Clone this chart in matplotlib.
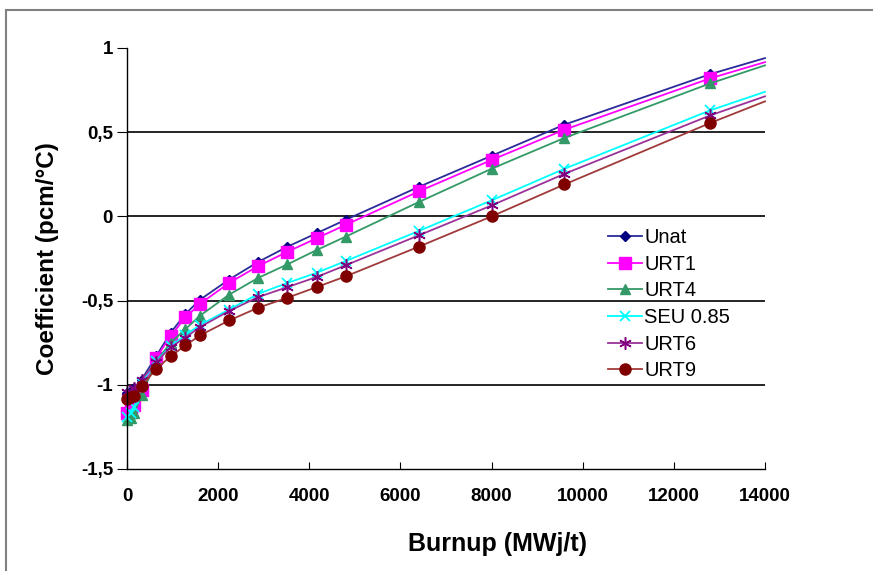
import matplotlib
matplotlib.use("Agg")
import matplotlib.pyplot as plt
from matplotlib.patches import Rectangle

plt.rcParams['font.family'] = ['Liberation Sans', 'DejaVu Sans']

burnup = [0, 80, 160, 320, 640, 960, 1280, 1600, 2240, 2880, 3520, 4160, 4800,
          6400, 8000, 9600, 12800, 14000]

unat = [-1.05, -1.04, -1.02, -0.97, -0.83, -0.69, -0.58, -0.495, -0.375, -0.27,
        -0.18, -0.10, -0.02, 0.175, 0.36, 0.545, 0.845, 0.94]
urt1 = [-1.17, -1.15, -1.12, -1.03, -0.84, -0.71, -0.60, -0.52, -0.395, -0.295,
        -0.21, -0.13, -0.05, 0.148, 0.335, 0.515, 0.82, 0.916]
urt4 = [-1.21, -1.20, -1.17, -1.06, -0.86, -0.75, -0.67, -0.59, -0.465, -0.365,
        -0.285, -0.20, -0.12, 0.085, 0.283, 0.466, 0.79, 0.897]
seu = [-1.19, -1.17, -1.13, -0.99, -0.86, -0.77, -0.705, -0.645, -0.553, -0.46,
       -0.395, -0.335, -0.265, -0.087, 0.095, 0.283, 0.63, 0.74]
urt6 = [-1.04, -1.04, -1.02, -0.97, -0.865, -0.776, -0.72, -0.657, -0.562, -0.479,
        -0.42, -0.36, -0.29, -0.113, 0.065, 0.253, 0.60, 0.713]
urt9 = [-1.085, -1.075, -1.065, -1.01, -0.905, -0.831, -0.766, -0.707, -0.618, -0.542,
        -0.483, -0.42, -0.356, -0.18, 0.0, 0.19, 0.555, 0.683]

series = [
    ("Unat", unat, "#000080", "#2B2B99", "D", 5, None),
    ("URT1", urt1, "#FF00FF", "#FF00FF", "s", 8, None),
    ("URT4", urt4, "#339966", "#339966", "^", 7, None),
    ("SEU 0.85", seu, "#00FFFF", "#00FFFF", "x", 7, 1.3),
    ("URT6", urt6, "#800080", "#993399", (6, 2, 0), 9, 1.1),
    ("URT9", urt9, "#800000", "#A03A3A", "o", 8, None),
]

xticks = [0, 2000, 4000, 6000, 8000, 10000, 12000, 14000]
yticks = [-1.5, -1, -0.5, 0, 0.5, 1]
ytick_labels = ["-1,5", "-1", "-0,5", "0", "0,5", "1"]

fig = plt.figure(figsize=(8.73, 5.71), dpi=100)
ax = fig.add_axes([127/873, 1-469/571, (765-127)/873, (469-48)/571])

fig.patches.append(Rectangle((6/873, -0.2), 1.5, 0.2 + 1 - 10/571,
                             transform=fig.transFigure, fill=False,
                             edgecolor="#808080", linewidth=1.5))

n = len(burnup)
for name, vals, mcol, lcol, mk, ms, mew in series:
    kw = dict(color=lcol, marker=mk, markersize=ms, linewidth=1.3,
              markerfacecolor=mcol, markeredgecolor=mcol,
              markevery=list(range(n - 1)), label=name, clip_on=False)
    if mew:
        kw['markeredgewidth'] = mew
    ax.plot(burnup, vals, **kw)

ax.set_xlim(0, 14000)
ax.set_ylim(-1.5, 1)
ax.set_xticks(xticks)
ax.set_xticklabels([str(t) for t in xticks], fontweight='bold', fontsize=13.5)
ax.set_yticks(yticks)
ax.set_yticklabels(ytick_labels, fontweight='bold', fontsize=13.5)

ax.grid(axis='y', color='black', linewidth=1.2)
gl = ax.get_ygridlines()
gl[0].set_visible(False)
gl[-1].set_visible(False)
ax.set_axisbelow(True)

for s in ['top', 'right']:
    ax.spines[s].set_visible(False)
for s in ['left', 'bottom']:
    ax.spines[s].set_linewidth(1.0)
ax.tick_params(axis='x', direction='in', length=5, pad=14)
ax.tick_params(axis='y', direction='out', length=7, pad=3)

ax.set_xlabel("Burnup (MWj/t)", fontweight='bold', fontsize=18)
ax.xaxis.set_label_coords((497-127)/638, (469-532)/421)
ax.set_ylabel("Coefficient (pcm/°C)", fontweight='bold', fontsize=17.5)
ax.yaxis.set_label_coords((59-127)/638, 0.5)

leg = ax.legend(loc='upper left', bbox_to_anchor=((600-127)/638, 1-(220-48)/421),
                frameon=False, fontsize=14.5, handlelength=1.7, labelspacing=0.38,
                handletextpad=0.1, borderaxespad=0)

fig.savefig("out.png", dpi=100)
